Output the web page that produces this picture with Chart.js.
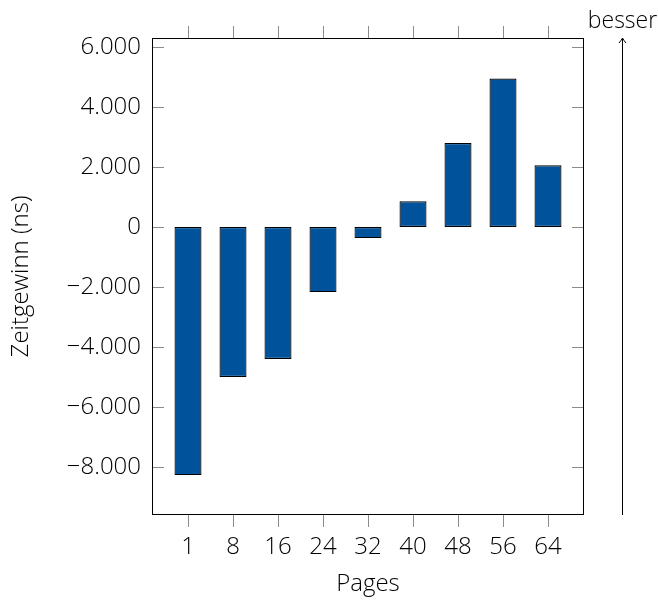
<!DOCTYPE html>
<html>
<head>
<meta charset="utf-8">
<script src="https://cdn.jsdelivr.net/npm/chart.js@4/dist/chart.umd.min.js"></script>
<style>
  html, body { margin: 0; padding: 0; background: #fff; }
  #wrap { width: 658px; height: 601px; }
</style>
</head>
<body>
<div id="wrap"><canvas id="chart" width="658" height="601"></canvas></div>
<script>
const pages = ["1", "8", "16", "24", "32", "40", "48", "56", "64"];
const gain = [-8270, -5000, -4400, -2170, -370, 860, 2800, 4950, 2060];
const yTicks = [-8000, -6000, -4000, -2000, 0, 2000, 4000, 6000];

const fontFamily = "'Open Sans', sans-serif";
const barColor = "rgb(0, 82, 155)";
const txt = { family: fontFamily, size: 24, weight: 300 };

const fmt = (v) => {
    const s = Math.abs(v).toString().replace(/\B(?=(\d{3})+(?!\d))/g, ".");
    return v < 0 ? "\u2212" + s : s;
}

// frame, inside/outside tick marks and the "besser" arrow
const decor = {
    id: "decor",
    afterDraw(chart) {
        const ctx = chart.ctx;
        const { left, right, top, bottom } = chart.chartArea;
        const x = chart.scales.x, y = chart.scales.y;
        ctx.save();
        ctx.lineWidth = 1;
        ctx.strokeStyle = "#8c8c8c";
        ctx.beginPath();
        pages.forEach((p, i) => {
            const px = Math.round(x.getPixelForValue(i)) + 0.5;
            ctx.moveTo(px, bottom); ctx.lineTo(px, bottom + 12);
            ctx.moveTo(px, top); ctx.lineTo(px, top - 12);
        });
        yTicks.forEach(v => {
            const py = Math.round(y.getPixelForValue(v)) + 0.5;
            ctx.moveTo(left, py); ctx.lineTo(left + 12, py);
            ctx.moveTo(right, py); ctx.lineTo(right - 12, py);
        });
        ctx.stroke();

        ctx.strokeStyle = "#000";
        ctx.strokeRect(left + 0.5, top + 0.5, right - left - 1, bottom - top - 1);

        // arrow
        const ax = 622.5;
        ctx.beginPath();
        ctx.moveTo(ax, bottom);
        ctx.lineTo(ax, top + 1);
        ctx.moveTo(ax - 3.5, top + 5);
        ctx.quadraticCurveTo(ax - 1, top + 2, ax, top);
        ctx.quadraticCurveTo(ax + 1, top + 2, ax + 3.5, top + 5);
        ctx.stroke();

        ctx.fillStyle = "#000";
        ctx.font = "300 23px " + fontFamily;
        ctx.textAlign = "center";
        ctx.textBaseline = "alphabetic";
        ctx.fillText("besser", ax, 28);
        ctx.restore();
    }
}

new Chart(document.getElementById("chart"), {
    type: "bar",
    data: {
        datasets: [{
            data: gain.map((v, i) => ({ x: i, y: v })),
            backgroundColor: barColor,
            borderColor: "#000",
            borderWidth: 1.2,
            borderSkipped: false,
            barPercentage: 0.6,
            categoryPercentage: 1
        }]
    },
    options: {
        responsive: false,
        animation: false,
        layout: { padding: { left: 0, top: 38, right: 74, bottom: 0 } },
        plugins: { legend: { display: false }, tooltip: { enabled: false } },
        scales: {
            x: {
                type: "linear",
                offset: false,
                min: -0.8,
                max: 8.8,
                afterFit: (s) => { s.height = 86; },
                afterBuildTicks: (s) => { s.ticks = pages.map((p, i) => ({ value: i })); },
                grid: { display: false, drawTicks: false },
                border: { display: false },
                ticks: {
                    padding: 18,
                    autoSkip: false,
                    maxRotation: 0,
                    color: "#000",
                    font: txt,
                    callback: (v) => pages[v]
                },
                title: {
                    display: true,
                    text: "Pages",
                    color: "#000",
                    padding: 2,
                    font: txt
                }
            },
            y: {
                min: -9600,
                max: 6300,
                afterFit: (s) => { s.width = 152; },
                afterBuildTicks: (s) => { s.ticks = yTicks.map(v => ({ value: v })); },
                grid: { display: false, drawTicks: false },
                border: { display: false },
                ticks: {
                    padding: 11,
                    color: "#000",
                    font: txt,
                    callback: (v) => fmt(v)
                },
                title: {
                    display: true,
                    text: "Zeitgewinn (ns)",
                    color: "#000",
                    padding: 7,
                    font: txt
                }
            }
        }
    },
    plugins: [decor]
});
</script>
</body>
</html>
